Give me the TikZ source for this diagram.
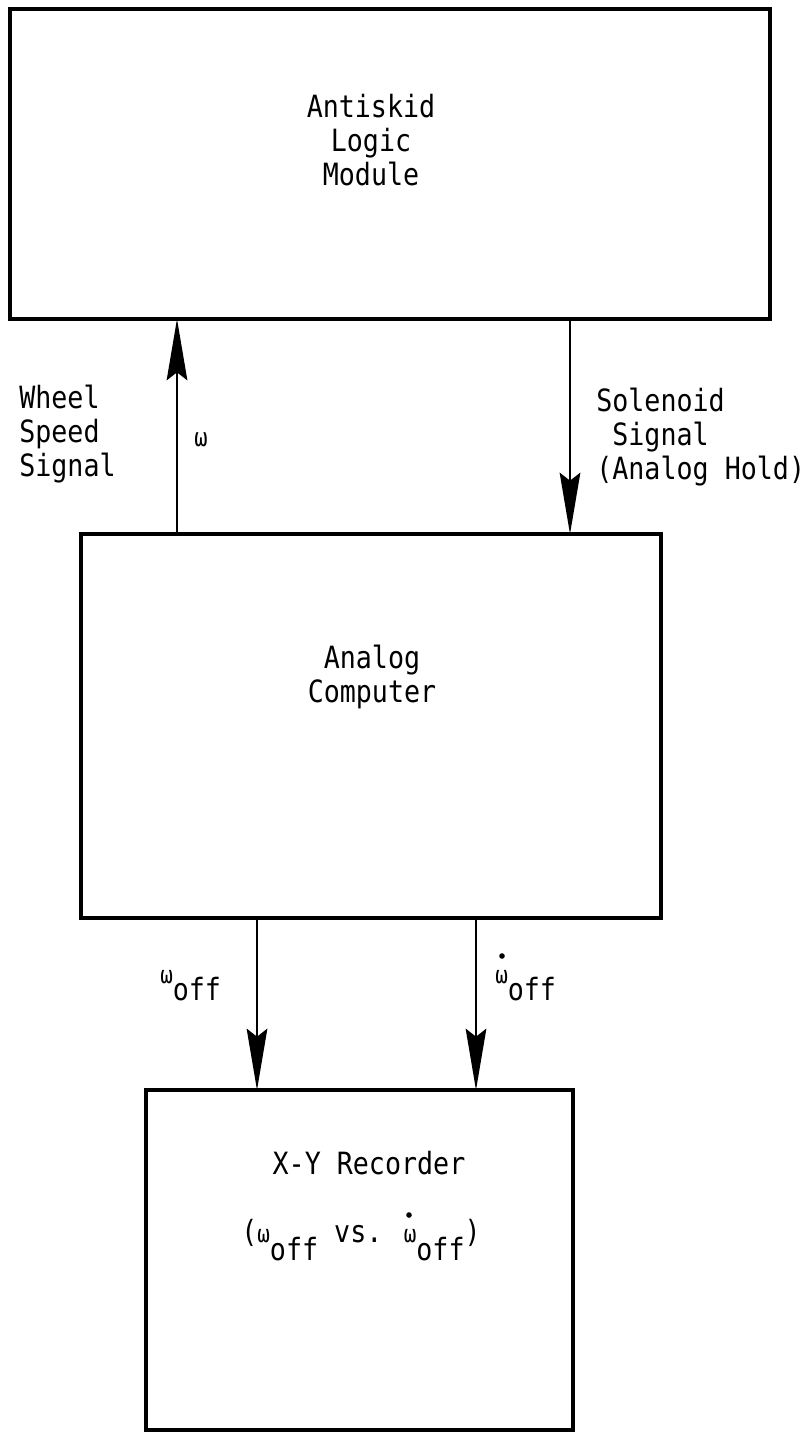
\documentclass[tikz,border=0pt]{standalone}
\usepackage{fontspec}
\setmainfont[FakeStretch=0.87]{DejaVu Sans Mono}
\usetikzlibrary{arrows.meta}
\newcommand{\om}{{\fontsize{18}{18}\selectfont ω}}
\newcommand{\lblfont}{\fontsize{23}{25.5}\selectfont}
\begin{document}
\begin{tikzpicture}[x=0.75pt,y=-0.75pt,
  box/.style={draw,line width=3.2pt,rectangle,outer sep=0pt,inner sep=0pt},
  lbl/.style={font=\lblfont,inner sep=0pt},
  dotmark/.style={fill,circle,inner sep=0pt,minimum size=4.2pt},
  arr/.style={line width=1.4pt,-{Stealth[length=46pt,width=15.5pt,inset=6pt]}}]
\fill[white] (0,0) rectangle (805,1434);
\useasboundingbox (0,0) rectangle (805,1434);
% boxes
\node[box,minimum width=570pt,minimum height=232.5pt] (top) at (390,164) {};
\node[box,minimum width=435pt,minimum height=288pt] (analog) at (371,726) {};
\node[box,minimum width=320.25pt,minimum height=255pt] (xy) at (359.5,1260) {};
% box texts
\node[lbl,align=center] (toplbl) at (371,140) {Antiskid\\Logic\\Module};
\node[lbl,align=center] (analoglbl) at (372,677) {Analog\\Computer};
\node[lbl] (xylbl) at (369,1163) {X-Y Recorder};
\node[lbl,anchor=base] (xysub) at (361,1242) {(\om\raisebox{-13.5pt}{off} vs. \om\raisebox{-13.5pt}{off})};
\node[dotmark] (xydot) at (409,1215) {};
% side labels
\node[lbl,align=left,anchor=west] (wheel) at (19,434) {Wheel\\Speed\\Signal};
\node[lbl,align=left,anchor=west] (sol) at (596,437) {Solenoid\\\phantom{S}Signal\\(Analog Hold)};
\node[inner sep=0pt,font=\fontsize{19}{19}\selectfont] (wlbl) at (201,440) {ω};
\node[lbl,anchor=base west] (woff) at (160,1000) {\raisebox{12.75pt}{\om}off};
\node[lbl,anchor=base west] (wdoff) at (495,1000) {\raisebox{12.75pt}{\om}off};
\node[dotmark] (wdot) at (502,956) {};
% connectors
\coordinate (c1) at (177,0);
\coordinate (c2) at (570,0);
\coordinate (c3) at (257,0);
\coordinate (c4) at (476,0);
\draw[arr] (analog.north -| c1) -- (top.south -| c1);
\draw[arr] (top.south -| c2) -- (analog.north -| c2);
\draw[arr] (analog.south -| c3) -- (xy.north -| c3);
\draw[arr] (analog.south -| c4) -- (xy.north -| c4);
\end{tikzpicture}
\end{document}
